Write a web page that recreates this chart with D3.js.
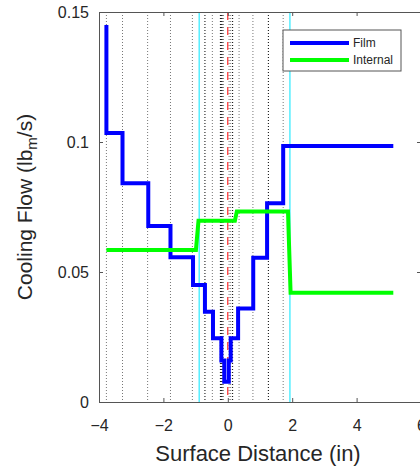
<!DOCTYPE html>
<html lang="en">
  <head>
    <meta charset="UTF-8" />
    <title>Cooling Flow vs Surface Distance</title>
    <script src="https://d3js.org/d3.v7.min.js"></script>
    <style>
      body {
        margin: 0;
        padding: 0;
        background: #fff;
        font-family: "Liberation Sans", Arial, sans-serif;
      }
      svg {
        display: block;
      }
    </style>
  </head>
  <body>
    <svg width="420" height="466"></svg>
    <script>
      // film flow: step values, each starting at filmX
      const filmX = [-3.77, -3.77, -3.27, -2.47, -1.78, -1.08, -0.71, -0.46, -0.2, -0.11, 0.03, 0.09, 0.32, 0.79, 1.22, 1.72, 5.14];
      const filmY = [0.145, 0.1035, 0.0841, 0.0677, 0.0557, 0.045, 0.0347, 0.0245, 0.016, 0.0078, 0.016, 0.0245, 0.036, 0.0555, 0.0764, 0.0985, 0.0985];

      // internal flow
      const internalX = [-3.77, -0.99, -0.91, 0.22, 0.28, 1.87, 1.89, 1.95, 5.14];
      const internalY = [0.0585, 0.0585, 0.0697, 0.0697, 0.0733, 0.0733, 0.065, 0.042, 0.042];

      // hole locations (dotted), dark ones, boundaries (cyan), stagnation (red)
      const holesGray = [-3.77, -3.27, -2.49, -1.78, -1.1, -0.48, 0.04, 0.09, 0.35, 0.78, 1.72];
      const holesDark = [-0.71, -0.23, -0.19, -0.15, 0.15, 1.26];
      const boundaries = [-0.89, 1.93];
      const stagnation = [0];

      const xTicks = [-4, -2, 0, 2, 4, 6];
      const yTicks = [0, 0.05, 0.1, 0.15];

      const margin = { left: 99, right: 421, top: 12, bottom: 402 };
      const svg = d3.select("svg");

      const x = d3.scaleLinear().domain([-4, 6]).range([margin.left, margin.right]);
      const y = d3.scaleLinear().domain([0, 0.15]).range([margin.bottom, margin.top]);

      const fmt = d3.format("~g");

      // vertical reference lines
      const refs = svg.append("g");
      const vlines = (data, color, dash) =>
        refs
          .append("g")
          .selectAll("line")
          .data(data)
          .join("line")
          .attr("x1", (d) => x(d))
          .attr("x2", (d) => x(d))
          .attr("y1", margin.top)
          .attr("y2", margin.bottom)
          .attr("stroke", color)
          .attr("stroke-width", 1)
          .attr("stroke-dasharray", dash);
      vlines(holesGray, "#777", "1,2");
      vlines(holesDark, "#000", "1,2");
      vlines(boundaries, "#00e5ff", null);
      vlines(stagnation, "#ff0000", "8,7");

      const filmLine = d3
        .line()
        .x((d, i) => x(filmX[i]))
        .y((d) => y(d))
        .curve(d3.curveStepAfter);
      const internalLine = d3
        .line()
        .x((d, i) => x(internalX[i]))
        .y((d) => y(d));

      svg
        .append("path")
        .attr("d", filmLine(filmY))
        .attr("fill", "none")
        .attr("stroke", "#0000ff")
        .attr("stroke-width", 4);
      svg
        .append("path")
        .attr("d", internalLine(internalY))
        .attr("fill", "none")
        .attr("stroke", "#00ff00")
        .attr("stroke-width", 4);

      // axes (box, inward ticks)
      const axisColor = "#555";
      const styleAxis = (g) => {
        g.selectAll(".domain").attr("stroke", axisColor);
        g.selectAll(".tick line").attr("stroke", axisColor);
        g.selectAll(".tick text")
          .attr("fill", "#262626")
          .attr("font-size", 16)
          .attr("font-family", "Liberation Sans, Arial, sans-serif");
      };

      svg
        .append("g")
        .attr("transform", `translate(0,${margin.bottom})`)
        .call(d3.axisBottom(x).tickValues(xTicks).tickFormat(fmt).tickSize(-4).tickSizeOuter(0).tickPadding(18))
        .call(styleAxis);
      svg
        .append("g")
        .attr("transform", `translate(0,${margin.top})`)
        .call(d3.axisTop(x).tickValues(xTicks).tickFormat("").tickSize(-4).tickSizeOuter(0))
        .call(styleAxis);
      svg
        .append("g")
        .attr("transform", `translate(${margin.left},0)`)
        .call(d3.axisLeft(y).tickValues(yTicks).tickFormat(fmt).tickSize(-4).tickSizeOuter(0).tickPadding(10))
        .call(styleAxis);
      svg
        .append("g")
        .attr("transform", `translate(${margin.right},0)`)
        .call(d3.axisRight(y).tickValues(yTicks).tickFormat("").tickSize(-4).tickSizeOuter(0))
        .call(styleAxis);

      // axis labels
      svg
        .append("text")
        .attr("x", (margin.left + margin.right) / 2 - 2)
        .attr("y", 461)
        .attr("text-anchor", "middle")
        .attr("font-size", 22)
        .attr("fill", "#262626")
        .text("Surface Distance (in)");

      const yl = svg
        .append("text")
        .attr("transform", `translate(32,${(margin.top + margin.bottom) / 2}) rotate(-90)`)
        .attr("text-anchor", "middle")
        .attr("font-size", 21)
        .attr("fill", "#262626");
      yl.append("tspan").text("Cooling Flow (lb");
      yl.append("tspan").attr("font-size", 15).attr("dy", 5).text("m");
      yl.append("tspan").attr("dy", -5).text("/s)");

      // legend
      const legendItems = ["Film", "Internal"];
      const legendColors = ["#0000ff", "#00ff00"];
      const legend = svg.append("g").attr("transform", "translate(283,30)");
      legend
        .append("rect")
        .attr("width", 118)
        .attr("height", 41)
        .attr("fill", "#fff")
        .attr("stroke", "#555")
        .attr("stroke-width", 1);
      const item = legend
        .selectAll("g")
        .data(legendItems)
        .join("g")
        .attr("transform", (d, i) => `translate(0,${13 + i * 17})`);
      item
        .append("line")
        .attr("x1", 7)
        .attr("x2", 66)
        .attr("stroke", (d, i) => legendColors[i])
        .attr("stroke-width", 4);
      item
        .append("text")
        .attr("x", 70)
        .attr("dy", "0.35em")
        .attr("font-size", 12)
        .attr("fill", "#262626")
        .text((d) => d);
    </script>
  </body>
</html>
